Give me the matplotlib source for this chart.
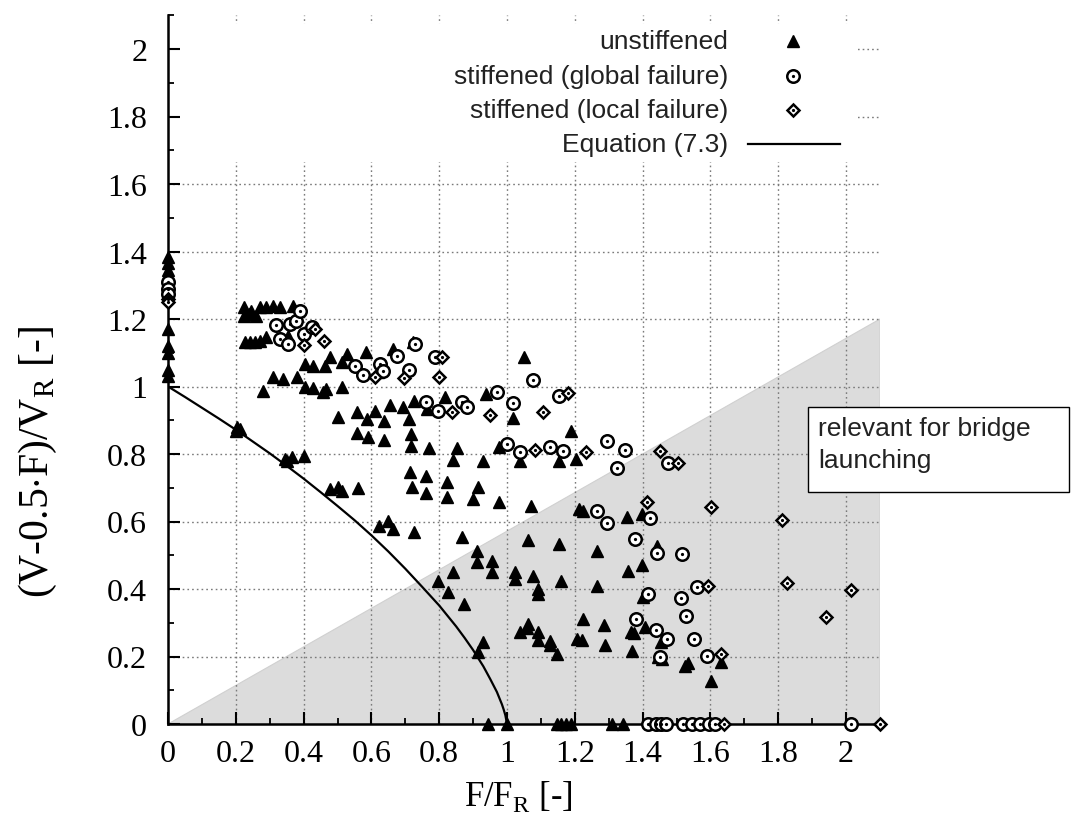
import matplotlib
matplotlib.use("Agg")
import matplotlib.pyplot as plt
from matplotlib.patches import Rectangle, Polygon
from matplotlib.ticker import MultipleLocator, FuncFormatter

SERIF = "Liberation Serif"
SANS = "Liberation Sans"
plt.rcParams["font.family"] = SERIF
plt.rcParams["mathtext.fontset"] = "custom"
plt.rcParams["mathtext.rm"] = SERIF

# ---------------------------------------------------------------- data
# unstiffened (filled triangles)
tri_x = [0, 0, 0, 0, 0, 0, 0, 0,
         0.225, 0.245, 0.27, 0.29, 0.31, 0.33, 0.37, 0.225, 0.24, 0.26,
         0.227, 0.242, 0.257, 0.271, 0.289, 0.355,
         0.404, 0.429, 0.463, 0.478, 0.512, 0.527, 0.584, 0.664, 0.723, 0.62,
         0.31, 0.339, 0.38, 0.28, 0.404, 0.428, 0.458, 0.467, 0.512,
         0.655, 0.694, 0.726, 0.763, 0.817, 0.501, 0.557, 0.588, 0.611, 0.638, 0.711,
         0.938, 1.017, 1.188, 1.050,
         0.557, 0.59, 0.637, 0.716, 0.716, 0.771, 0.852, 0.841, 0.928, 0.977, 1.038, 1.152, 1.204,
         0.714, 0.760, 0.822, 0.719, 0.760, 0.822, 0.913, 0.901, 0.975, 1.07,
         0.203, 0.212, 0.2,
         0.345, 0.365, 0.40, 0.352,
         0.478, 0.502, 0.512, 0.561,
         0.623, 0.65, 0.664, 0.726,
         0.866, 1.213, 1.225, 1.355, 1.397,
         1.063, 1.154, 1.264, 1.443,
         0.91, 0.91, 0.957, 0.957, 0.842, 0.797, 0.827, 0.874, 1.024, 1.024, 1.078, 1.092,
         1.09, 1.159, 1.264, 1.358, 1.397, 1.40,
         1.225, 1.287, 1.365, 1.375, 1.407, 1.453, 1.289, 1.368, 1.206, 1.22, 1.063, 1.06,
         1.038, 1.092, 1.09, 1.127, 1.128, 1.147, 0.93, 0.915,
         1.631, 1.525, 1.535, 1.601, 1.456, 1.445,
         0.945, 0.999, 1.147, 1.16, 1.175, 1.19, 1.309, 1.343, 1.45, 1.46]
tri_y = [1.385, 1.365, 1.345, 1.17, 1.12, 1.10, 1.05, 1.03,
         1.235, 1.225, 1.235, 1.235, 1.24, 1.235, 1.24, 1.21, 1.215, 1.21,
         1.131, 1.131, 1.131, 1.135, 1.147, 1.15,
         1.067, 1.062, 1.062, 1.086, 1.072, 1.096, 1.101, 1.111, 1.131, 1.042,
         1.028, 1.022, 1.028, 0.988, 0.998, 0.995, 0.983, 0.993, 0.998,
         0.946, 0.939, 0.958, 0.933, 0.969, 0.910, 0.924, 0.904, 0.928, 0.899, 0.904,
         0.978, 0.906, 0.869, 1.086,
         0.862, 0.85, 0.842, 0.859, 0.825, 0.818, 0.818, 0.781, 0.78, 0.82, 0.78, 0.778, 0.785,
         0.746, 0.735, 0.718, 0.702, 0.684, 0.672, 0.701, 0.667, 0.657, 0.645,
         0.88, 0.875, 0.868,
         0.785, 0.79, 0.795, 0.78,
         0.696, 0.702, 0.691, 0.699,
         0.588, 0.602, 0.578, 0.569,
         0.553, 0.637, 0.63, 0.612, 0.622,
         0.546, 0.533, 0.514, 0.527,
         0.514, 0.479, 0.484, 0.449, 0.449, 0.425, 0.390, 0.356, 0.449, 0.43, 0.439, 0.40,
         0.385, 0.425, 0.41, 0.452, 0.471, 0.375,
         0.311, 0.293, 0.272, 0.27, 0.286, 0.242, 0.234, 0.217, 0.252, 0.25, 0.296, 0.285,
         0.272, 0.272, 0.25, 0.247, 0.235, 0.207, 0.244, 0.212,
         0.183, 0.173, 0.18, 0.128, 0.193, 0.2,
         0, 0, 0, 0, 0, 0, 0, 0, 0, 0]

# stiffened, global failure (open circles with centre dot)
glob_x = [0, 0, 0,
          0.318, 0.33, 0.36, 0.378, 0.389, 0.401, 0.424, 0.355,
          0.552, 0.576, 0.625, 0.635, 0.676, 0.711, 0.728, 0.788,
          0.761, 0.797, 0.866, 0.881, 0.970, 1.019, 1.076, 1.152,
          1.0, 1.038, 1.127, 1.164, 1.294, 1.348, 1.323, 1.476,
          1.265, 1.294, 1.422, 1.376, 1.443, 1.515,
          1.417, 1.512, 1.561, 1.528, 1.381, 1.438, 1.471, 1.552, 1.589, 1.45,
          1.417, 1.44, 1.455, 1.47, 1.52, 1.545, 1.57, 1.595, 1.612, 2.013]
glob_y = [1.31, 1.29, 1.275,
          1.182, 1.141, 1.185, 1.195, 1.225, 1.156, 1.176, 1.126,
          1.062, 1.034, 1.067, 1.045, 1.090, 1.050, 1.126, 1.087,
          0.954, 0.928, 0.953, 0.938, 0.983, 0.951, 1.020, 0.973,
          0.83, 0.807, 0.82, 0.81, 0.839, 0.813, 0.758, 0.773,
          0.632, 0.597, 0.609, 0.548, 0.507, 0.504,
          0.385, 0.372, 0.405, 0.321, 0.311, 0.279, 0.252, 0.252, 0.202, 0.2,
          0, 0, 0, 0, 0, 0, 0, 0, 0, 0]

# stiffened, local failure (open diamonds with centre dot)
loc_x = [0, 0,
         0.401, 0.434, 0.46, 0.611, 0.696, 0.807, 0.80,
         0.837, 0.95, 1.107, 1.181,
         1.083, 1.233, 1.451, 1.505,
         1.414, 1.601, 1.811,
         1.594, 1.825, 2.013, 1.941, 1.630,
         1.64, 2.1]
loc_y = [1.26, 1.25,
         1.123, 1.170, 1.136, 1.028, 1.025, 1.087, 1.028,
         0.925, 0.916, 0.923, 0.982,
         0.813, 0.805, 0.81, 0.773,
         0.657, 0.644, 0.604,
         0.41, 0.417, 0.397, 0.316, 0.207,
         0, 0]

# Equation (7.3)
eq_x = [0, 0.05, 0.1, 0.15, 0.2, 0.25, 0.3, 0.35, 0.4, 0.45, 0.5, 0.55, 0.6, 0.65,
        0.7, 0.75, 0.8, 0.85, 0.875, 0.9, 0.93, 0.95, 0.97, 0.985, 0.99, 0.995, 1.0]
eq_y = [1.0, 0.969, 0.937, 0.905, 0.872, 0.837, 0.802, 0.765, 0.727, 0.687, 0.646,
        0.604, 0.559, 0.511, 0.46, 0.406, 0.351, 0.289, 0.255, 0.219, 0.171, 0.134,
        0.095, 0.058, 0.043, 0.026, 0.0]

# shaded "relevant for bridge launching" zone
zone_x = [0, 2.1, 2.1]
zone_y = [0, 1.2, 0]

legend_labels = ["unstiffened", "stiffened (global failure)",
                 "stiffened (local failure)", "Equation (7.3)"]

# ---------------------------------------------------------------- figure
W, H = 1072, 829
fig = plt.figure(figsize=(W / 100, H / 100), dpi=100, facecolor="white")
ax = fig.add_axes([168 / W, 104 / H, 712 / W, 708.75 / H])
ax.set_xlim(0, 2.1)
ax.set_ylim(0, 2.1)

ax.add_patch(Polygon(list(zip(zone_x, zone_y)), closed=True, facecolor="#dcdcdc",
                     edgecolor="#d0d0d0", linewidth=0.8, zorder=0.2))

grid_pos = [0.2, 0.4, 0.6, 0.8, 1.0, 1.2, 1.4, 1.6, 1.8, 2.0]
for g in grid_pos:
    ax.axvline(g, color="#7a7a7a", linestyle=(0, (1.2, 2.2)), linewidth=1.0, zorder=0.5)
    ax.axhline(g, color="#7a7a7a", linestyle=(0, (1.2, 2.2)), linewidth=1.0, zorder=0.5)

# key area masks the grid
ax.add_patch(Rectangle((0, 1.665), 2.035, 0.409, facecolor="white", edgecolor="none", zorder=0.8))

ax.plot(eq_x, eq_y, color="black", linewidth=1.6, zorder=2)

TRI = dict(marker="^", markersize=9, color="black")
CIRC = dict(marker="o", markersize=9, markerfacecolor="white", markeredgecolor="black",
            markeredgewidth=1.8)
DIAM = dict(marker="D", markersize=6.3, markerfacecolor="white", markeredgecolor="black",
            markeredgewidth=1.8)
DOT = dict(marker=".", markersize=2.6, color="black")

ms_kw = dict(linestyle="none", clip_on=False, zorder=3)
ax.plot(tri_x, tri_y, **TRI, **ms_kw)
ax.plot(glob_x, glob_y, **CIRC, **ms_kw)
ax.plot(glob_x, glob_y, **DOT, **ms_kw)
ax.plot(loc_x, loc_y, **DIAM, **ms_kw)
ax.plot(loc_x, loc_y, **DOT, **ms_kw)

# spines / ticks
for side in ("top", "right"):
    ax.spines[side].set_visible(False)
for side in ("left", "bottom"):
    ax.spines[side].set_linewidth(1.8)
ax.xaxis.set_major_locator(MultipleLocator(0.2))
ax.xaxis.set_minor_locator(MultipleLocator(0.1))
ax.yaxis.set_major_locator(MultipleLocator(0.2))
ax.yaxis.set_minor_locator(MultipleLocator(0.1))
fmt = FuncFormatter(lambda v, p: f"{v:g}")
ax.xaxis.set_major_formatter(fmt)
ax.yaxis.set_major_formatter(fmt)
ax.tick_params(which="major", direction="in", length=8.5, width=1.5, labelsize=23)
ax.tick_params(which="minor", direction="in", length=4.5, width=1.3)
ax.tick_params(axis="y", which="major", pad=15)
ax.tick_params(axis="x", which="major", pad=11)
ax.tick_params(top=False, right=False, which="both")

fig.text(38 / W, 1 - 462 / H, r"(V-0.5$\cdot$F)/V$_\mathregular{R}$ [-]", rotation=90,
         ha="center", va="center", fontsize=30)
fig.text(518 / W, 1 - 797 / H, r"F/F$_\mathregular{R}$ [-]", ha="center", va="center",
         fontsize=25)

# key
rows = [0.9637, 0.9143, 0.8663, 0.8183]
tx = 0.7865
mx = 0.8778
key_kw = dict(transform=ax.transAxes, linestyle="none", clip_on=False, zorder=4)
for lab, ry in zip(legend_labels, rows):
    ax.text(tx, ry, lab, transform=ax.transAxes, ha="right", va="center",
            fontsize=19, family=SANS, color="#222222", zorder=4)
ax.plot([mx], [rows[0]], **TRI, **key_kw)
ax.plot([mx], [rows[1]], **CIRC, **key_kw)
ax.plot([mx], [rows[1]], **DOT, **key_kw)
ax.plot([mx], [rows[2]], **DIAM, **key_kw)
ax.plot([mx], [rows[2]], **DOT, **key_kw)
ax.plot([0.8146, 0.9438], [rows[3], rows[3]], transform=ax.transAxes, color="black",
        linewidth=1.6, clip_on=False, zorder=4)

# annotation box
fig.patches.append(Rectangle((808 / W, 1 - 493 / H), 261 / W, 85 / H, transform=fig.transFigure,
                             facecolor="white", edgecolor="black", linewidth=1.0, zorder=5))
fig.text(818 / W, 1 - 445 / H, "relevant for bridge\nlaunching", ha="left", va="center",
         fontsize=19, family=SANS, color="#222222", linespacing=1.45, zorder=6)

fig.savefig("out.png", dpi=100, facecolor="white")
